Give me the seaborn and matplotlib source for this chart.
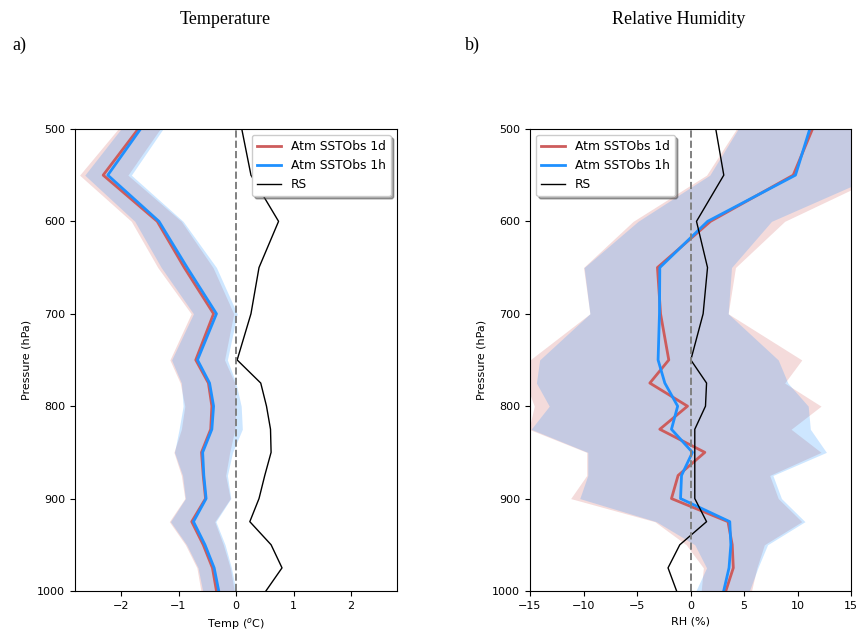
import matplotlib
matplotlib.use('Agg')
import matplotlib.pyplot as plt
import seaborn as sns
import numpy as np

# 기압면 (hPa)
levels = [500, 550, 600, 650, 700, 750, 775, 800, 825, 850, 875, 900, 925, 950, 975, 1000]

# a) 기온 편차 (°C)
temp_1d = [-1.70, -2.31, -1.37, -0.90, -0.39, -0.70, -0.48, -0.42, -0.44, -0.60, -0.57, -0.53, -0.77, -0.57, -0.41, -0.34]
temp_1h = [-1.66, -2.23, -1.34, -0.85, -0.34, -0.67, -0.46, -0.39, -0.42, -0.58, -0.56, -0.52, -0.74, -0.54, -0.38, -0.30]
temp_1d_lo = [-2.05, -2.72, -1.82, -1.36, -0.78, -1.15, -0.97, -0.89, -0.95, -1.08, -0.95, -0.89, -1.16, -0.88, -0.68, -0.61]
temp_1d_hi = [-1.32, -1.88, -0.95, -0.40, -0.04, -0.20, -0.02, 0.00, -0.02, -0.11, -0.18, -0.10, -0.37, -0.22, -0.10, -0.03]
temp_1h_lo = [-2.00, -2.63, -1.76, -1.30, -0.74, -1.12, -0.95, -0.92, -0.99, -1.07, -0.93, -0.88, -1.14, -0.86, -0.66, -0.58]
temp_1h_hi = [-1.27, -1.82, -0.92, -0.34, 0.02, -0.15, 0.00, 0.09, 0.11, -0.06, -0.15, -0.09, -0.35, -0.19, -0.08, 0.00]
temp_rs = [0.10, 0.26, 0.74, 0.40, 0.26, 0.02, 0.43, 0.53, 0.60, 0.61, 0.50, 0.40, 0.24, 0.61, 0.80, 0.52]

# b) 상대습도 편차 (%)
rh_1d = [11.4, 9.6, 1.87, -3.09, -2.8, -2.03, -3.8, -0.28, -2.87, 1.34, -1.16, -1.78, 3.5, 3.9, 4.0, 3.3]
rh_1h = [11.15, 9.81, 1.6, -2.87, -2.9, -3.03, -2.4, -1.2, -1.78, 0.18, -0.84, -0.93, 3.67, 3.77, 3.6, 3.1]
rh_1d_lo = [4.3, 1.5, -5.36, -10.0, -9.4, -15.0, -15.4, -14.6, -15.1, -9.7, -9.7, -11.2, -3.34, -0.4, 1.2, 1.0]
rh_1d_hi = [18.5, 17.9, 8.8, 4.2, 3.52, 10.4, 8.8, 12.2, 9.4, 12.2, 7.4, 8.2, 10.4, 6.9, 6.2, 5.7]
rh_1h_lo = [4.45, 1.8, -4.9, -9.94, -9.4, -14.1, -14.4, -13.2, -14.9, -9.6, -9.6, -10.35, -3.2, 0.4, 1.5, 0.5]
rh_1h_hi = [18.0, 17.4, 7.57, 3.83, 3.52, 8.2, 9.1, 11.0, 11.2, 12.7, 7.7, 8.5, 10.7, 7.2, 6.3, 5.5]
rh_rs = [2.36, 3.11, 0.56, 1.59, 1.18, 0.03, 1.5, 1.4, 0.4, 0.4, 0.4, 0.4, 1.5, -1.0, -2.1, -1.3]

plt.rcParams['font.size'] = 8

c1d = 'indianred'
c1h = 'dodgerblue'

fig = plt.figure(figsize=(8.59, 6.33), dpi=100)
ax1 = fig.add_axes([0.0873, 0.0664, 0.3749, 0.7299])
ax2 = fig.add_axes([0.617, 0.0664, 0.3737, 0.7299])


def draw(ax, m1d, lo1d, hi1d, m1h, lo1h, hi1h, rs):
    ax.fill_betweenx(levels, lo1d, hi1d, color=c1d, alpha=0.22, lw=0)
    ax.fill_betweenx(levels, lo1h, hi1h, color=c1h, alpha=0.22, lw=0)
    sns.lineplot(x=m1d, y=levels, orient='y', color=c1d, lw=2, label='Atm SSTObs 1d', ax=ax)
    sns.lineplot(x=m1h, y=levels, orient='y', color=c1h, lw=2, label='Atm SSTObs 1h', ax=ax)
    sns.lineplot(x=rs, y=levels, orient='y', color='black', lw=1, label='RS', ax=ax)
    ax.axvline(0, color='gray', ls='--', lw=1.4)
    ax.set_ylim(1000, 500)
    ax.set_yticks([500, 600, 700, 800, 900, 1000])
    ax.set_ylabel('Pressure (hPa)')


draw(ax1, temp_1d, temp_1d_lo, temp_1d_hi, temp_1h, temp_1h_lo, temp_1h_hi, temp_rs)
ax1.set_xlim(-2.8, 2.8)
ax1.set_xticks([-2, -1, 0, 1, 2])
ax1.set_xlabel('Temp ($^o$C)')
ax1.legend(loc='upper right', shadow=True, fontsize=8.8)

draw(ax2, rh_1d, rh_1d_lo, rh_1d_hi, rh_1h, rh_1h_lo, rh_1h_hi, rh_rs)
ax2.set_xlim(-15, 15)
ax2.set_xticks([-15, -10, -5, 0, 5, 10, 15])
ax2.set_xlabel('RH (%)')
ax2.legend(loc='upper left', shadow=True, fontsize=8.8)

# 제목 / 패널 라벨 (serif)
serif = dict(family='Liberation Serif', fontsize=13)
fig.text(225 / 859, 1 - 20 / 633, 'Temperature', ha='center', va='center', **serif)
fig.text(679 / 859, 1 - 20 / 633, 'Relative Humidity', ha='center', va='center', **serif)
fig.text(12 / 859, 1 - 45 / 633, 'a)', ha='left', va='center', **serif)
fig.text(465 / 859, 1 - 45 / 633, 'b)', ha='left', va='center', **serif)

plt.savefig('out.png', dpi=100)
